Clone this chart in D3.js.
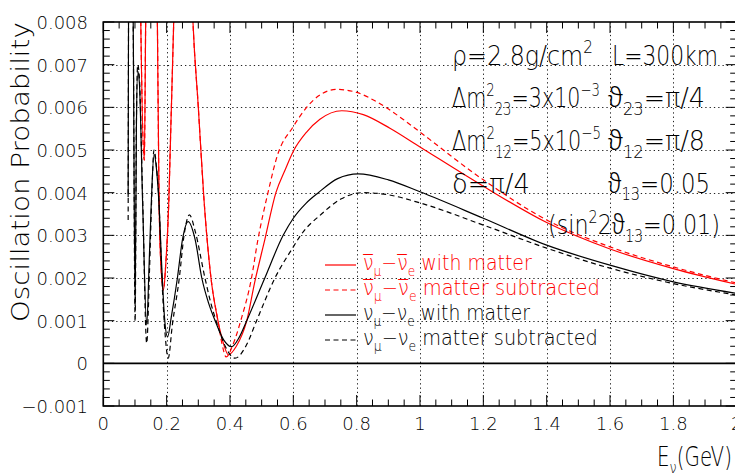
<!DOCTYPE html>
<html><head><meta charset="utf-8">
<script src="https://cdn.jsdelivr.net/npm/d3@7"></script>
<style>body{margin:0;background:#fff}svg{display:block}</style>
</head><body>
<svg id="c" width="735" height="476"></svg>
<script>
// ---------- axis ticks ----------
const xTicks = [0, 0.2, 0.4, 0.6, 0.8, 1, 1.2, 1.4, 1.6, 1.8, 2];
const xTickLabels = ["0", "0.2", "0.4", "0.6", "0.8", "1", "1.2", "1.4", "1.6", "1.8", "2"];
const yTicks = [-0.001, 0, 0.001, 0.002, 0.003, 0.004, 0.005, 0.006, 0.007, 0.008];
const yTickLabels = ["\u22120.001", "0", "0.001", "0.002", "0.003", "0.004", "0.005", "0.006", "0.007", "0.008"];

// ---------- series (E in GeV, P in units of 1e-3) ----------
const antiMatterE = [0.110, 0.118, 0.1295, 0.134, 0.150, 0.1705, 0.176, 0.182, 0.190, 0.197, 0.207, 0.212, 0.223, 0.250, 0.282, 0.300, 0.318, 0.340, 0.362, 0.380, 0.395, 0.420, 0.453, 0.478, 0.510, 0.545, 0.575, 0.600, 0.642, 0.684, 0.753, 0.821, 0.905, 1.0, 1.2, 1.4, 1.6, 1.8, 2.0];
const antiMatterP = [14, 8.2, 4.76, 8.2, 16, 8.2, 3.9, 2.3, 1.72, 2.3, 3.83, 5.2, 8.2, 18, 8.2, 6.0, 3.83, 2.0, 1.0, 0.45, 0.2, 0.4, 1.0, 1.9, 2.9, 4.0, 4.55, 4.97, 5.42, 5.72, 5.92, 5.83, 5.51, 5.07, 4.15, 3.3, 2.68, 2.22, 1.85];

const antiVacE = [0.110, 0.118, 0.1295, 0.134, 0.150, 0.1705, 0.176, 0.182, 0.190, 0.197, 0.207, 0.212, 0.223, 0.250, 0.282, 0.300, 0.318, 0.340, 0.362, 0.375, 0.388, 0.410, 0.434, 0.468, 0.487, 0.520, 0.550, 0.600, 0.642, 0.680, 0.737, 0.800, 0.870, 0.950, 1.0, 1.2, 1.4, 1.6, 1.8, 2.0];
const antiVacP = [14, 8.2, 4.76, 8.2, 16, 8.2, 3.9, 2.3, 1.72, 2.3, 3.83, 5.2, 8.2, 18, 8.2, 6.0, 3.83, 2.0, 1.0, 0.45, 0.15, 0.45, 1.0, 2.0, 2.85, 4.0, 4.88, 5.55, 6.0, 6.27, 6.42, 6.35, 6.1, 5.7, 5.42, 4.3, 3.36, 2.73, 2.26, 1.88];

const nuMatterE = [0.0785, 0.0815, 0.094, 0.1005, 0.1045, 0.1086, 0.1137, 0.1244, 0.137, 0.145, 0.152, 0.160, 0.168, 0.175, 0.185, 0.193, 0.203, 0.215, 0.234, 0.250, 0.268, 0.290, 0.311, 0.333, 0.353, 0.380, 0.405, 0.430, 0.453, 0.510, 0.568, 0.600, 0.640, 0.679, 0.740, 0.805, 0.900, 1.0, 1.2, 1.4, 1.6, 1.8, 2.0];
const nuMatterP = [3.9, 12, 8.3, 1.35, 5.5, 6.85, 6.6, 3.7, 0.9, 2.4, 3.85, 4.9, 4.55, 3.85, 2.2, 1.1, 0.62, 1.1, 2.0, 2.9, 3.32, 2.9, 2.0, 1.4, 1.0, 0.55, 0.39, 0.62, 1.0, 2.0, 3.0, 3.4, 3.75, 4.0, 4.33, 4.44, 4.3, 4.02, 3.40, 2.77, 2.30, 1.91, 1.64];

const nuVacE = [0.0785, 0.0815, 0.094, 0.1005, 0.1045, 0.1086, 0.1137, 0.1244, 0.137, 0.146, 0.153, 0.160, 0.168, 0.175, 0.185, 0.195, 0.205, 0.218, 0.240, 0.255, 0.272, 0.290, 0.321, 0.340, 0.356, 0.385, 0.416, 0.450, 0.484, 0.542, 0.600, 0.623, 0.689, 0.750, 0.821, 0.900, 1.0, 1.2, 1.4, 1.6, 1.8, 2.0];
const nuVacP = [3.36, 12, 8.3, 0.98, 5.6, 7.0, 6.72, 3.83, 0.47, 2.2, 3.9, 5.0, 4.6, 3.9, 2.0, 0.7, 0.12, 0.9, 2.0, 3.0, 3.48, 3.1, 2.0, 1.4, 1.0, 0.4, 0.12, 0.4, 1.0, 2.0, 2.73, 3.0, 3.5, 3.85, 4.0, 3.95, 3.76, 3.24, 2.70, 2.23, 1.87, 1.60];

// ---------- layout ----------
const L = 103.3, R = 736.7, T = 22, B = 406;
const svg = d3.select("#c");
const x = d3.scaleLinear().domain([0, 2]).range([L, R]);
const y = d3.scaleLinear().domain([-0.001, 0.008]).range([B, T]);
const FONT = "'DejaVu Sans', 'Liberation Sans', sans-serif";

svg.append("defs").append("clipPath").attr("id", "plot")
  .append("rect").attr("x", L).attr("y", T).attr("width", R - L).attr("height", B - T);

// grid
const grid = svg.append("g").attr("stroke", "#222").attr("stroke-width", 1).attr("stroke-dasharray", "1.3,3");
xTicks.filter(v => v > 0 && v < 2).forEach(v => {
  grid.append("line").attr("x1", Math.round(x(v)) + 0.5).attr("x2", Math.round(x(v)) + 0.5).attr("y1", T).attr("y2", B);
});
yTicks.filter(v => v > 0 && v < 0.008).forEach(v => {
  grid.append("line").attr("x1", L).attr("x2", R).attr("y1", Math.round(y(v)) + 0.5).attr("y2", Math.round(y(v)) + 0.5);
});
svg.append("line").attr("x1", L).attr("x2", R).attr("y1", y(0)).attr("y2", y(0)).attr("stroke", "#000").attr("stroke-width", 1.6);

// curves
const line = d3.line().x(d => x(d[0])).y(d => y(d[1] * 1e-3)).curve(d3.curveMonotoneX);
const curves = svg.append("g").attr("clip-path", "url(#plot)").attr("fill", "none").attr("stroke-width", 1.2);
[
  [antiMatterE, antiMatterP, "#ff0000", null],
  [antiVacE, antiVacP, "#ff0000", "5,3.5"],
  [nuMatterE, nuMatterP, "#000", null],
  [nuVacE, nuVacP, "#000", "5,3.5"]
].forEach(([E, P, col, dash]) => {
  const pts = E.map((e, i) => [e, P[i]]);
  const p = curves.append("path").attr("d", line(pts)).attr("stroke", col);
  if (dash) p.attr("stroke-dasharray", dash);
});

// frame + ticks
const ax = svg.append("g").attr("stroke", "#000");
ax.append("rect").attr("x", L).attr("y", T).attr("width", R - L).attr("height", B - T)
  .attr("fill", "none").attr("stroke-width", 1.6);
d3.range(0, 41).forEach(i => {
  const px = x(i * 0.05);
  const len = (i % 4 === 0) ? 11 : 6.5;
  ax.append("line").attr("x1", px).attr("x2", px).attr("y1", B).attr("y2", B - len).attr("stroke-width", 1);
  ax.append("line").attr("x1", px).attr("x2", px).attr("y1", T).attr("y2", T + len).attr("stroke-width", 1);
});
d3.range(0, 46).forEach(i => {
  const py = y(-0.001 + i * 0.0002);
  const len = (i % 5 === 0) ? 11 : 6.5;
  ax.append("line").attr("x1", L).attr("x2", L + len).attr("y1", py).attr("y2", py).attr("stroke-width", 1);
  ax.append("line").attr("x1", R).attr("x2", R - len).attr("y1", py).attr("y2", py).attr("stroke-width", 1);
});

// tick labels
const tl = svg.append("g").attr("font-family", FONT).attr("font-weight", 200).attr("font-size", 18).attr("fill", "#000");
xTicks.forEach((v, i) => {
  tl.append("text").attr("x", x(v)).attr("y", 430).attr("text-anchor", "middle").text(xTickLabels[i]);
});
yTicks.forEach((v, i) => {
  tl.append("text").attr("x", 88).attr("y", y(v) + 7).attr("text-anchor", "end").text(yTickLabels[i]);
});

// rich text helper
function rich(parent, parts, size, color) {
  const t = parent.append("text").attr("font-family", FONT).attr("font-weight", 200)
    .attr("font-size", size).attr("fill", color).attr("x", 0).attr("y", 0);
  let off = 0;
  parts.forEach(p => {
    const str = Array.isArray(p) ? p[0] : p;
    const kind = Array.isArray(p) ? p[1] : null;
    const target = kind === "sup" ? -0.42 * size : kind === "sub" ? 0.28 * size : 0;
    const ts = t.append("tspan").attr("dy", target - off).text(str);
    if (kind === "sup" || kind === "sub") ts.attr("font-size", size * 0.64);
    if (kind === "greek") ts.attr("font-family", "'Noto Sans', 'DejaVu Sans', sans-serif").attr("font-weight", 300);
    off = target;
  });
  return t;
}
function fit(t, x0, x1, yb) {
  const w = t.node().getComputedTextLength();
  t.attr("transform", `translate(${x0},${yb}) scale(${(x1 - x0) / w},1)`);
}

// annotation
const ann = svg.append("g");
const A = 27;
const TH = ["\u03d1", "greek"];
fit(rich(ann, ["\u03c1=2.8g/cm", ["2", "sup"]], A, "#000"), 452, 593, 64.5);
fit(rich(ann, ["L=300km"], A, "#000"), 612, 718, 64.5);
fit(rich(ann, ["\u0394m", ["2", "sup"], ["23", "sub"], "=3x10", ["\u22123", "sup"]], A, "#000"), 452, 600, 107.3);
fit(rich(ann, [TH, ["23", "sub"], "=\u03c0/4"], A, "#000"), 608, 705, 107.3);
fit(rich(ann, ["\u0394m", ["2", "sup"], ["12", "sub"], "=5x10", ["\u22125", "sup"]], A, "#000"), 452, 601, 150);
fit(rich(ann, [TH, ["12", "sub"], "=\u03c0/8"], A, "#000"), 608, 705, 150);
fit(rich(ann, ["\u03b4=\u03c0/4"], A, "#000"), 452, 530, 192.7);
fit(rich(ann, [TH, ["13", "sub"], "=0.05"], A, "#000"), 608, 710, 192.7);
fit(rich(ann, ["(sin", ["2", "sup"], "2", TH, ["13", "sub"], "=0.01)"], A, "#000"), 548, 720, 234);

// legend
const legRows = [
  { parts: ["\u03bd\u0305", ["\u03bc", "sub"], "\u2212\u03bd\u0305", ["e", "sub"], " with matter"], col: "#ff0000", dash: null, end: 532 },
  { parts: ["\u03bd\u0305", ["\u03bc", "sub"], "\u2212\u03bd\u0305", ["e", "sub"], " matter subtracted"], col: "#ff0000", dash: "5,3.5", end: 600 },
  { parts: ["\u03bd", ["\u03bc", "sub"], "\u2212\u03bd", ["e", "sub"], " with matter"], col: "#000", dash: null, end: 530 },
  { parts: ["\u03bd", ["\u03bc", "sub"], "\u2212\u03bd", ["e", "sub"], " matter subtracted"], col: "#000", dash: "5,3.5", end: 598 }
];
const legY = [270, 295, 320, 345];
const leg = svg.append("g");
legRows.forEach((r, i) => {
  const ly = legY[i] - 5;
  const ln = leg.append("line").attr("x1", 325).attr("x2", 356).attr("y1", ly).attr("y2", ly)
    .attr("stroke", r.col).attr("stroke-width", 1.2);
  if (r.dash) ln.attr("stroke-dasharray", r.dash);
  fit(rich(leg, r.parts, 22, r.col), 363, r.end, legY[i]);
});

// axis titles
fit(rich(svg, ["E", ["\u03bd", "sub"], "(GeV)"], 26, "#000"), 657, 732, 466);
const yt = rich(svg, ["Oscillation Probability"], 24, "#000");
const yw = yt.node().getComputedTextLength();
yt.attr("transform", `translate(29,322) rotate(-90) scale(${300 / yw},1)`);
</script>
</body></html>
